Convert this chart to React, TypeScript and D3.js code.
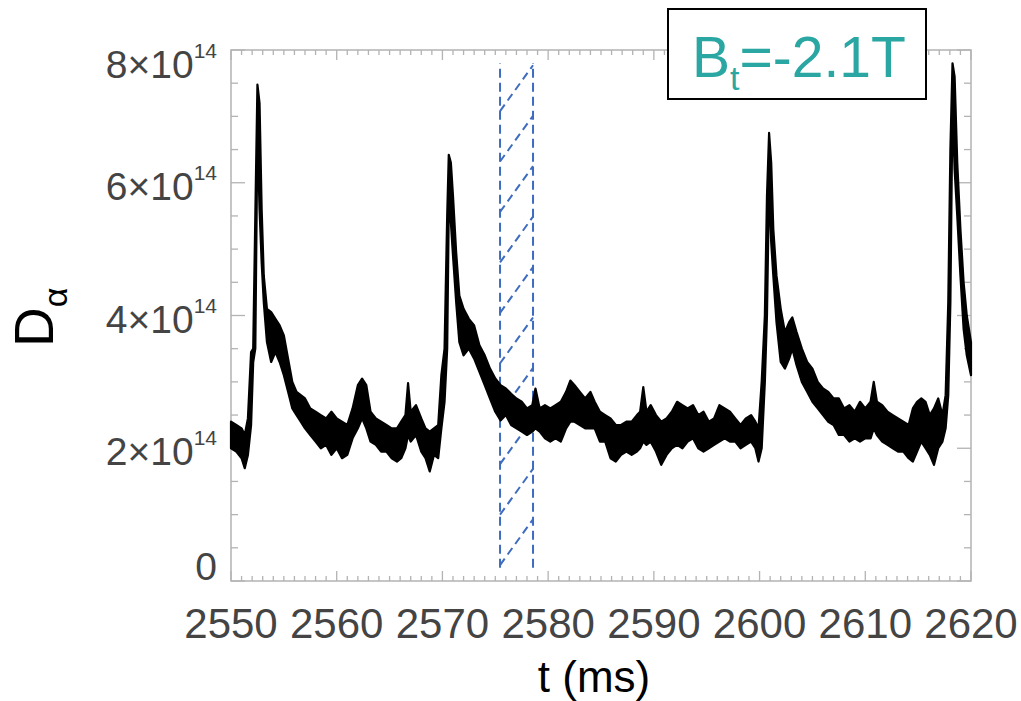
import React from "react";
import * as d3 from "d3";

const tMs = [
  2550.0, 2550.5, 2551.0, 2551.3, 2551.6, 2551.9, 2552.1, 2552.3, 2552.5, 2552.7,
  2552.9, 2553.1, 2553.4, 2553.8, 2554.2, 2554.6, 2555.0, 2555.4, 2555.8, 2556.2,
  2556.6, 2557.0, 2557.5, 2558.0, 2558.5, 2559.0, 2559.5, 2560.0, 2560.5, 2561.0,
  2561.5, 2562.0, 2562.4, 2562.8, 2563.2, 2563.7, 2564.2, 2564.7, 2565.2, 2565.7,
  2566.1, 2566.5, 2566.75, 2567.0, 2567.5, 2568.0, 2568.4, 2568.8, 2569.2, 2569.6,
  2569.9, 2570.2, 2570.45, 2570.6, 2570.8, 2571.0, 2571.3, 2571.6, 2572.0, 2572.5,
  2573.0, 2573.5, 2574.0, 2574.5, 2575.0, 2575.5, 2576.0, 2576.5, 2577.0, 2577.5,
  2578.0, 2578.5, 2578.8, 2579.2, 2579.7, 2580.2, 2580.7, 2581.2, 2581.7, 2582.1,
  2582.5, 2583.0, 2583.5, 2584.0, 2584.4, 2584.9, 2585.4, 2585.9, 2586.4, 2586.9,
  2587.4, 2587.9, 2588.4, 2588.7, 2589.0, 2589.3, 2589.7, 2590.2, 2590.7, 2591.2,
  2591.7, 2592.2, 2592.7, 2593.2, 2593.7, 2594.2, 2594.7, 2595.2, 2595.7, 2596.2,
  2596.7, 2597.2, 2597.7, 2598.2, 2598.7, 2599.2, 2599.6, 2599.9, 2600.2, 2600.5,
  2600.7, 2600.9, 2601.1, 2601.3, 2601.6, 2602.0, 2602.4, 2602.8, 2603.1, 2603.5,
  2604.0, 2604.5, 2605.0, 2605.5, 2606.0, 2606.5, 2607.0, 2607.5, 2608.0, 2608.5,
  2609.0, 2609.5, 2610.0, 2610.5, 2610.8, 2611.1, 2611.6, 2612.1, 2612.6, 2613.1,
  2613.6, 2614.1, 2614.5, 2614.9, 2615.3, 2615.7, 2616.1, 2616.5, 2616.9, 2617.3,
  2617.6, 2617.85, 2618.05, 2618.25, 2618.45, 2618.7, 2619.0, 2619.3, 2619.6, 2620.0,
];
const dAlphaLo = [
  2.0, 1.95, 1.85, 1.7, 1.9, 2.35, 3.3, 3.5, 6.8, 5.6,
  4.8, 4.2, 3.6, 3.3, 3.45, 3.3, 3.1, 2.85, 2.6, 2.5,
  2.4, 2.3, 2.2, 2.1, 2.0, 2.05, 1.9, 2.0, 1.85, 1.9,
  2.15, 2.3, 2.45, 2.3, 2.1, 2.05, 1.95, 1.95, 1.85, 1.8,
  1.85, 2.0, 2.2, 2.1, 2.2, 1.95, 1.85, 1.65, 1.9, 1.85,
  2.3, 2.7, 3.5, 5.6, 5.4, 4.9, 4.2, 3.6, 3.4, 3.5,
  3.35, 3.15, 2.95, 2.75, 2.55, 2.42, 2.5, 2.35, 2.3, 2.25,
  2.2, 2.25, 2.3, 2.25, 2.15, 2.1, 2.15, 2.1, 2.3, 2.4,
  2.4, 2.35, 2.3, 2.3, 2.3, 2.1, 2.1, 1.85, 1.8, 1.9,
  1.95, 1.9, 1.95, 2.0, 2.1, 2.05, 2.1, 1.95, 1.75, 1.9,
  2.0, 2.05, 2.0, 2.1, 2.15, 2.0, 1.95, 2.0, 2.05, 2.1,
  2.15, 2.1, 2.1, 2.0, 2.05, 2.1, 2.0, 1.8, 2.0, 3.0,
  4.0, 6.0, 5.1, 4.6, 3.9, 3.3, 3.2, 3.35, 3.5, 3.25,
  3.0, 2.85, 2.7, 2.6, 2.5, 2.4, 2.35, 2.2, 2.2, 2.1,
  2.15, 2.1, 2.15, 2.15, 2.3, 2.2, 2.1, 2.05, 2.0, 1.95,
  1.95, 1.85, 1.8, 1.95, 2.1, 2.0, 1.9, 1.75, 2.0, 2.1,
  2.3, 2.8, 4.2, 7.2, 6.2, 5.5, 4.6, 3.8, 3.4, 3.1,
];
const dAlphaHi = [
  2.4, 2.35, 2.3, 2.2, 2.45, 3.45, 3.5, 5.5, 7.48, 7.2,
  5.6, 4.6, 4.1, 4.05, 3.95, 3.85, 3.7, 3.35, 3.0, 2.85,
  2.8, 2.75, 2.6, 2.55, 2.5, 2.45, 2.55, 2.45, 2.4, 2.35,
  2.6, 2.95, 3.05, 2.95, 2.55, 2.45, 2.4, 2.35, 2.3, 2.3,
  2.4, 2.5, 2.98, 2.55, 2.65, 2.45, 2.3, 2.25, 2.3, 2.35,
  3.1, 3.5, 5.5, 6.42, 6.3, 5.8, 4.95, 4.3, 4.1, 3.95,
  3.85, 3.55, 3.4, 3.2, 3.05, 2.95, 2.9, 2.82, 2.75, 2.7,
  2.6, 2.65, 2.9, 2.6, 2.65, 2.6, 2.65, 2.7, 2.85, 3.02,
  2.95, 2.85, 2.75, 2.85, 2.7, 2.55, 2.5, 2.45, 2.35, 2.35,
  2.4, 2.4, 2.5, 2.55, 2.92, 2.55, 2.65, 2.5, 2.4, 2.45,
  2.55, 2.7, 2.65, 2.6, 2.65, 2.5, 2.55, 2.4, 2.45, 2.65,
  2.6, 2.55, 2.45, 2.35, 2.45, 2.5, 2.4, 2.3, 3.0, 4.0,
  5.8, 6.75, 6.3, 5.3, 4.6, 4.1, 3.75, 3.9, 3.97, 3.75,
  3.5, 3.3, 3.2, 3.0, 2.9, 2.85, 2.75, 2.75, 2.6, 2.65,
  2.55, 2.7, 2.6, 2.7, 3.0, 2.7, 2.65, 2.55, 2.5, 2.45,
  2.4, 2.35, 2.6, 2.7, 2.75, 2.7, 2.5, 2.6, 2.75, 2.5,
  2.8, 4.2, 6.5, 7.8, 7.6, 6.3, 5.3, 4.5, 4.0, 3.6,
];

const xTicks = [2550, 2560, 2570, 2580, 2590, 2600, 2610, 2620];
const yTicks = [0, 2, 4, 6, 8];
const yTickMantissa = ["0", "2×10", "4×10", "6×10", "8×10"];
const yTickExponent = ["", "14", "14", "14", "14"];

// hatched window (t in ms, D-alpha in 1e14)
const windowT = [2575.45, 2578.57];
const windowY = [0.2, 7.8];
const hatchStarts = [0.24, 1.0, 1.76, 2.52, 3.28, 4.04, 4.8, 5.56, 6.32, 7.08];
const hatchRise = 0.69;

const W = 1021;
const H = 701;
const left = 231, right = 971, top = 50, bottom = 581;

export default function App() {
  const x = d3.scaleLinear().domain([2550, 2620]).range([left, right]);
  const y = d3.scaleLinear().domain([0, 8]).range([bottom, top]);

  const band = d3
    .area<number>()
    .x((d, i) => x(tMs[i]))
    .y0((d, i) => y(dAlphaLo[i]))
    .y1((d, i) => y(dAlphaHi[i]));

  const minorX = d3.range(2550, 2621, 1);
  const minorY = d3.range(0, 8.01, 0.5);
  const axisCol = "#b3b3b3";
  const labelCol = "#444";
  const blue = "#3e6cbf";
  const teal = "#2aa6a3";

  return (
    <div style={{ position: "fixed", left: 0, top: 0 }}>
      <svg width={W} height={H} style={{ display: "block", background: "#fff" }}>
        {/* frame */}
        <rect x={left} y={top} width={right - left} height={bottom - top}
          fill="none" stroke={axisCol} strokeWidth={1.5} />

        {/* ticks */}
        {minorX.map((v) => {
          const major = Math.round(v) % 10 === 0;
          const len = major ? 10 : 5;
          return (
            <g key={"xt" + v} stroke={axisCol} strokeWidth={1.3}>
              <line x1={x(v)} x2={x(v)} y1={bottom} y2={bottom - len} />
              <line x1={x(v)} x2={x(v)} y1={top} y2={top + len} />
            </g>
          );
        })}
        {minorY.map((v) => {
          const major = Math.abs(v % 2) < 1e-6;
          const len = major ? 14 : 7;
          return (
            <g key={"yt" + v} stroke={axisCol} strokeWidth={1.3}>
              <line x1={left} x2={left + len} y1={y(v)} y2={y(v)} />
              <line x1={right} x2={right - len} y1={y(v)} y2={y(v)} />
            </g>
          );
        })}

        {/* hatched window */}
        <g stroke={blue} strokeWidth={2} fill="none" strokeDasharray="9 5">
          {windowT.map((t) => (
            <line key={"wl" + t} x1={x(t)} x2={x(t)} y1={y(windowY[0])} y2={y(windowY[1])} />
          ))}
          {hatchStarts.map((s) => (
            <line key={"h" + s} x1={x(windowT[0])} y1={y(s)}
              x2={x(windowT[1])} y2={y(s + hatchRise)} strokeDasharray="8 5" />
          ))}
        </g>

        {/* D-alpha trace */}
        <path d={band(tMs) ?? ""} fill="#000" stroke="#000" strokeWidth={2.2}
          strokeLinejoin="round" />

        {/* tick labels */}
        <g fontFamily="'Liberation Sans', Arial, sans-serif" fill={labelCol}>
          {xTicks.map((v) => (
            <text key={"xl" + v} x={x(v)} y={638} fontSize={42} textAnchor="middle">
              {v}
            </text>
          ))}
          {yTicks.map((v, i) => {
            const by = Math.max(78, Math.min(580, y(v) + 17));
            return (
              <text key={"yl" + v} x={217} y={by} fontSize={39} textAnchor="end">
                {yTickMantissa[i]}
                {yTickExponent[i] && (
                  <tspan fontSize={21} dy={-20}>{yTickExponent[i]}</tspan>
                )}
              </text>
            );
          })}
        </g>

        {/* axis titles */}
        <text x={594} y={692} fontSize={44} textAnchor="middle"
          fontFamily="'Liberation Sans', Arial, sans-serif" fill="#000">
          t (ms)
        </text>
        <text transform="translate(53,347) rotate(-90)" fontSize={55}
          fontFamily="'Liberation Sans', Arial, sans-serif" fill="#000">
          D<tspan fontSize={34} dy={14}>α</tspan>
        </text>

        {/* field label box */}
        <rect x={668} y={9} width={258} height={90} fill="#fff" stroke="#000" strokeWidth={2} />
        <text x={692} y={77} fontSize={57} fill={teal}
          fontFamily="'Liberation Sans', Arial, sans-serif">
          B<tspan fontSize={34} dy={13}>t</tspan>
          <tspan dy={-13}>=-2.1T</tspan>
        </text>
      </svg>
    </div>
  );
}
